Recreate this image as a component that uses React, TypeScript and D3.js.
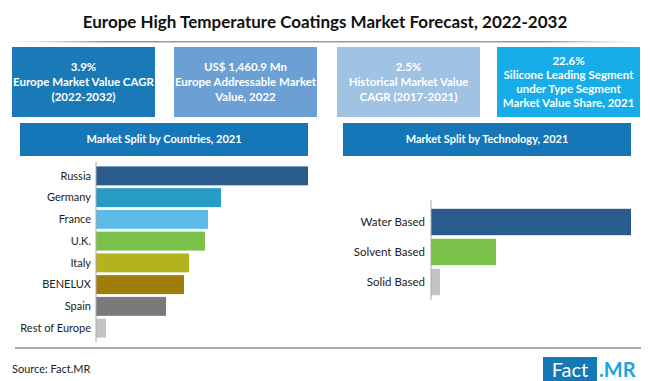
import React from "react";
import * as d3 from "d3";

const W = 650;
const H = 381;

const title = "Europe High Temperature Coatings Market Forecast, 2022-2032";

const kpiLines: string[][] = [
  ["3.9%", "Europe Market Value CAGR", "(2022-2032)"],
  ["US$ 1,460.9 Mn", "Europe Addressable Market", "Value, 2022"],
  ["2.5%", "Historical Market Value", "CAGR (2017-2021)"],
  ["22.6%", "Silicone Leading Segment", "under Type Segment", "Market Value Share, 2021"],
];
const kpiColors = ["#1a7ab8", "#6c9fd3", "#a0c2e3", "#17ade8"];

const countries = ["Russia", "Germany", "France", "U.K.", "Italy", "BENELUX", "Spain", "Rest of Europe"];
const countryValues = [21.2, 12.5, 11.2, 10.9, 9.3, 8.8, 7.0, 1.0];
const countryColors = ["#2b5c8e", "#279cc6", "#5bbde7", "#7bc24b", "#b3b31f", "#a07c0b", "#7a7a7a", "#c3c3c3"];

const technologies = ["Water Based", "Solvent Based", "Solid Based"];
const techValues = [20.0, 6.5, 0.9];
const techColors = ["#2b5c8e", "#7bc24b", "#c3c3c3"];

const FONT = "Lato, 'Open Sans', sans-serif";

function HBar({
  cats, vals, colors, x0, x1, y0, y1, labelX, axisTop, axisBottom, pad, fontSize,
}: {
  cats: string[]; vals: number[]; colors: string[]; x0: number; x1: number; y0: number; y1: number;
  labelX: number; axisTop: number; axisBottom: number; pad: number; fontSize: number;
}) {
  const y = d3.scaleBand<string>().domain(cats).range([y0, y1]).paddingInner(pad).paddingOuter(pad / 2);
  const x = d3.scaleLinear().domain([0, d3.max(vals) as number]).range([x0, x1]);
  return (
    <g>
      {cats.map((c, i) => (
        <g key={c}>
          <rect x={x(0)} y={y(c)} width={x(vals[i]) - x(0)} height={y.bandwidth()} fill={colors[i]} />
          <text x={labelX} y={(y(c) as number) + y.bandwidth() / 2} dy="0.35em" textAnchor="end"
            fontSize={fontSize} fill="#222" fontFamily={FONT}>{c}</text>
        </g>
      ))}
      <line x1={x0} x2={x0} y1={axisTop} y2={axisBottom} stroke="#aaa" strokeWidth={1} />
    </g>
  );
}

export default function App() {
  const boxes = [
    { x: 12, w: 143 },
    { x: 174, w: 143 },
    { x: 337, w: 143 },
    { x: 497, w: 143 },
  ];
  return (
    <svg width={W} height={H} style={{ position: "absolute", left: 0, top: 0, background: "#fff" }}
      fontFamily={FONT}>
      <defs>
        <linearGradient id="ul" x1="0" x2="1" y1="0" y2="0">
          <stop offset="0" stopColor="#bbb" stopOpacity={0} />
          <stop offset="0.15" stopColor="#999" />
          <stop offset="0.85" stopColor="#999" />
          <stop offset="1" stopColor="#bbb" stopOpacity={0} />
        </linearGradient>
      </defs>
      <text x={W / 2} y={28} textAnchor="middle" fontSize={17} fontWeight="bold" fill="#111">{title}</text>
      <rect x={8} y={41} width={634} height={1.5} fill="url(#ul)" />

      {kpiLines.map((lines, i) => {
        const b = boxes[i];
        const lh = lines.length === 4 ? 14 : 15;
        const cy = 82;
        const start = cy - ((lines.length - 1) * lh) / 2;
        return (
          <g key={i}>
            <rect x={b.x} y={47} width={b.w} height={70} fill={kpiColors[i]} />
            {lines.map((l, j) => (
              <text key={j} x={b.x + b.w / 2} y={start + j * lh} dy="0.35em" textAnchor="middle"
                fontSize={11.5} fontWeight="bold" fill="#fff">{l}</text>
            ))}
          </g>
        );
      })}

      <rect x={20} y={123} width={288} height={33} fill="#1577b8" />
      <text x={164} y={139.5} dy="0.35em" textAnchor="middle" fontSize={11} fontWeight="bold" fill="#fff">
        Market Split by Countries, 2021
      </text>
      <rect x={343} y={123} width={288} height={33} fill="#1577b8" />
      <text x={487} y={139.5} dy="0.35em" textAnchor="middle" fontSize={11} fontWeight="bold" fill="#fff">
        Market Split by Technology, 2021
      </text>

      <HBar cats={countries} vals={countryValues} colors={countryColors} x0={96} x1={308}
        y0={165} y1={339} labelX={91} axisTop={162} axisBottom={342} pad={0.13} fontSize={11} />
      <HBar cats={technologies} vals={techValues} colors={techColors} x0={431} x1={631}
        y0={207} y1={297} labelX={425} axisTop={200} axisBottom={300} pad={0.12} fontSize={11.5} />

      <line x1={15} x2={641} y1={348} y2={348} stroke="#555" strokeWidth={1} />
      <text x={12} y={369} dy="0.35em" fontSize={11} fill="#222">Source: Fact.MR</text>

      <rect x={543} y={357} width={54} height={24} fill="#1579b5" />
      <text x={570} y={370} dy="0.35em" textAnchor="middle" fontSize={20} fill="#fff">Fact</text>
      <text x={599} y={370} dy="0.35em" fontSize={20} fontWeight="bold" fill="#1aa6df">.MR</text>
    </svg>
  );
}
